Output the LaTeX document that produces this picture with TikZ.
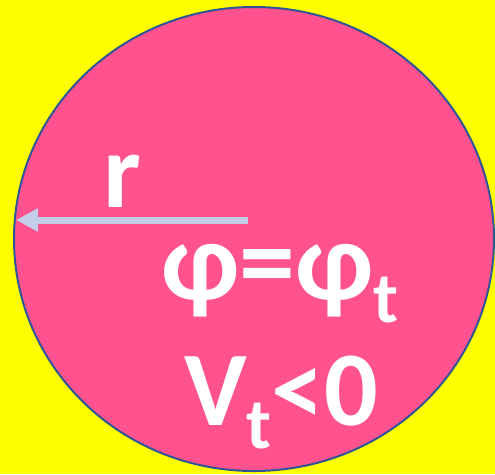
\documentclass[tikz,border=0pt]{standalone}
\usepackage{fontspec}
\setmainfont{Carlito}
\usetikzlibrary{arrows.meta}
\definecolor{BgYel}{RGB}{255,255,0}
\definecolor{BallPk}{RGB}{255,82,142}
\definecolor{RimBl}{RGB}{47,85,151}
\definecolor{ArrLv}{RGB}{196,206,232}
\tikzset{
  ball/.style={fill=BallPk,draw=RimBl,line width=2pt},
  bigtxt/.style={text=white,inner sep=0pt,anchor=base west,
                 font=\fontsize{106}{106}\selectfont\bfseries},
  rarr/.style={-{Triangle[length=22pt,width=22pt]},line width=7pt,ArrLv},
}
\newcommand{\subt}{\raisebox{-23pt}{\fontsize{72}{72}\selectfont t}}
\begin{document}
\begin{tikzpicture}[x=1pt,y=-1pt]
  % background
  \fill[BgYel] (0,0) rectangle (495,474);
  \useasboundingbox (0,0) rectangle (495,474);
  % ball
  \draw[ball] (254,239) ellipse (240 and 232);
  % radius
  \coordinate (rtail) at (248,220);
  \coordinate (rtip)  at (16,220);
  \draw[rarr] (rtail) -- (rtip);
  \node[bigtxt] (rlab) at (103,207) {r};
  % labels
  \node[bigtxt,font=\fontsize{112}{112}\selectfont\bfseries] (phi) at (161,299) {φ=φ\subt};
  \node[bigtxt] (vt)  at (184,425) {V\subt<0};
\end{tikzpicture}
\end{document}
